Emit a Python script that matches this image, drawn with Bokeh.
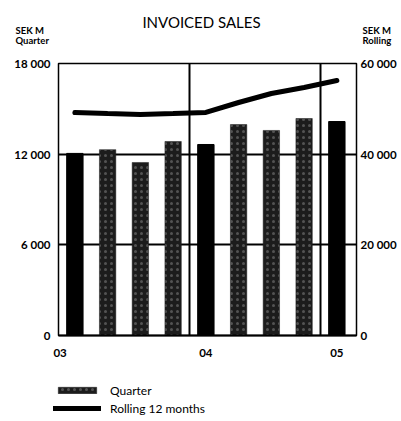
from bokeh.plotting import figure
from bokeh.models import Range1d, LinearAxis, FixedTicker, Legend, LegendItem
from bokeh.layouts import column
from bokeh.core.properties import value
from bokeh.embed import file_html
from bokeh.resources import INLINE

# ---- data ----
quarters = ["Q1 03", "Q2 03", "Q3 03", "Q4 03", "Q1 04", "Q2 04", "Q3 04", "Q4 04", "Q1 05"]
quarter_sales = [12050, 12300, 11450, 12840, 12640, 13960, 13570, 14360, 14160]
rolling_12m = [49200, 48970, 48750, 48970, 49200, 51400, 53390, 54700, 56250]
left_ticks = [0, 6000, 12000, 18000]
left_tick_labels = ["0", "6 000", "12 000", "18 000"]
right_ticks = [0, 20000, 40000, 60000]
right_tick_labels = ["0", "20 000", "40 000", "60 000"]
year_labels = ["03", "04", "05"]
title_text = "INVOICED SALES"
left_unit = ["SEK M", "Quarter"]
right_unit = ["SEK M", "Rolling"]
legend_labels = ["Quarter", "Rolling 12 months"]

FONT = "Lato"
W = 401
BAR_DOT = "#1c1c1c"
NAN = float("nan")

idx = list(range(len(quarters)))
is_q1 = [q.startswith("Q1") for q in quarters]
q1_idx = [i for i, f in zip(idx, is_q1) if f]
q1_val = [v for v, f in zip(quarter_sales, is_q1) if f]
ot_idx = [i for i, f in zip(idx, is_q1) if not f]
ot_val = [v for v, f in zip(quarter_sales, is_q1) if not f]
year_pos = [-0.45] + q1_idx[1:]


def bare(fig):
    fig.xaxis.visible = False
    fig.yaxis.visible = False
    fig.grid.visible = False
    fig.outline_line_color = None
    fig.min_border = 0


# ---- header ----
H1 = 50
hdr = figure(width=W, height=H1, output_backend="svg", toolbar_location=None,
             x_range=Range1d(0, W), y_range=Range1d(H1, 0), frame_align=False)
bare(hdr)
hdr.text(x=[201], y=[21.5], text=[title_text], text_font=value(FONT), text_font_size="15px",
         text_align="center", text_baseline="middle", text_color="black")
hdr.text(x=[15, 15], y=[30, 40], text=left_unit, text_font=value(FONT), text_font_size="9.5px",
         text_font_style="bold", text_baseline="middle", text_color="black")
hdr.text(x=[362, 362], y=[30, 40], text=right_unit, text_font=value(FONT), text_font_size="9.5px",
         text_font_style="bold", text_baseline="middle", text_color="black")

# ---- main chart ----
H2 = 315
p = figure(width=W, height=H2, output_backend="svg", toolbar_location=None,
           x_range=Range1d(-0.5, 8.6), y_range=Range1d(0, 18000), frame_align=False,
           min_border_left=58, min_border_right=45, min_border_top=13, min_border_bottom=30)
p.extra_y_ranges = {"roll": Range1d(0, 60000)}
p.outline_line_color = "black"
p.outline_line_width = 1.5

p.xgrid.ticker = FixedTicker(ticks=[3.5, 7.5])
p.xgrid.grid_line_color = "black"
p.xgrid.grid_line_width = 2
p.ygrid.ticker = FixedTicker(ticks=[6000, 12000])
p.ygrid.grid_line_color = "black"
p.ygrid.grid_line_width = 2

xa = p.xaxis[0]
xa.ticker = FixedTicker(ticks=year_pos)
xa.major_label_overrides = {t: l for t, l in zip(year_pos, year_labels)}
ya = p.yaxis[0]
ya.ticker = FixedTicker(ticks=left_ticks)
ya.major_label_overrides = {t: l for t, l in zip(left_ticks, left_tick_labels)}
ra = LinearAxis(y_range_name="roll", ticker=FixedTicker(ticks=right_ticks))
ra.major_label_overrides = {t: l for t, l in zip(right_ticks, right_tick_labels)}
p.add_layout(ra, "right")
for ax in [xa, ya, ra]:
    ax.axis_line_color = None
    ax.major_tick_line_color = None
    ax.minor_tick_line_color = None
    ax.major_tick_out = 0
    ax.major_tick_in = 0
    ax.minor_tick_out = 0
    ax.minor_tick_in = 0
    ax.major_label_text_font = FONT
    ax.major_label_text_font_style = "bold"
    ax.major_label_text_font_size = "11.5px"
    ax.major_label_text_color = "black"
xa.major_label_standoff = 13
ya.major_label_standoff = 8
ra.major_label_standoff = 4
xa.axis_line_color = "black"
xa.axis_line_width = 2

bar_style = dict(width=0.5, fill_color=BAR_DOT, line_color=BAR_DOT, line_width=0.5,
                 hatch_pattern=".", hatch_color="#d0d0d0", hatch_alpha=0.3,
                 hatch_scale=6, hatch_weight=1)
line_style = dict(line_color="black", line_width=5, line_cap="round")

p.vbar(x=ot_idx, top=ot_val, **bar_style)
p.vbar(x=q1_idx, top=q1_val, width=0.5, fill_color="black", line_color="black")
p.line(x=idx, y=rolling_12m, y_range_name="roll", **line_style)

# ---- legend ----
H3 = 421 - H1 - H2
lg = figure(width=W, height=H3, output_backend="svg", toolbar_location=None,
            x_range=Range1d(0, 1), y_range=Range1d(0, 1), frame_align=False)
bare(lg)
r_bar = lg.vbar(x=[NAN], top=[NAN], **bar_style)
r_line = lg.line(x=[NAN, NAN], y=[NAN, NAN], **line_style)
legend = Legend(items=[LegendItem(label=legend_labels[0], renderers=[r_bar]),
                       LegendItem(label=legend_labels[1], renderers=[r_line])],
                location=(53, 4), orientation="vertical",
                border_line_color=None, background_fill_alpha=0,
                padding=0, margin=0, spacing=0, glyph_width=48, glyph_height=8,
                label_height=18, label_standoff=9, label_text_font=FONT,
                label_text_font_size="12px", label_text_color="black",
                label_text_baseline="middle")
lg.add_layout(legend)

layout = column(hdr, p, lg, spacing=0)
open("out.html", "w").write(file_html(layout, INLINE))
